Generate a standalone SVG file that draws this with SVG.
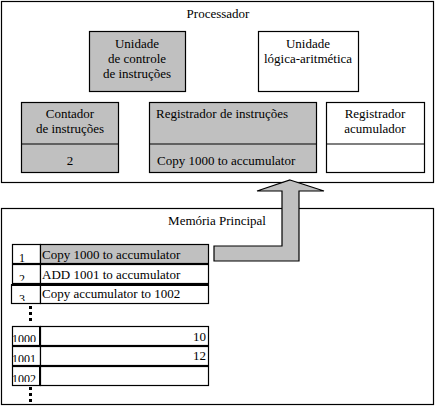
<svg xmlns="http://www.w3.org/2000/svg" width="435" height="408" viewBox="0 0 435 408">
<style>
text{font-family:"Liberation Serif","Times New Roman",serif;font-size:13px;fill:#000}
.c{text-anchor:middle}
.r{text-anchor:end}
.s{font-size:12px}
.box{stroke:#000;stroke-width:1.2}
.g{fill:#c0c0c0}
.w{fill:#fff}
.ln{stroke:#000;stroke-width:1.2;fill:none}
.dot{stroke:#000;stroke-width:3;stroke-dasharray:3 3;fill:none}
</style>
<defs>
<clipPath id="k1"><rect x="12" y="245" width="28" height="19"/></clipPath>
<clipPath id="k2"><rect x="12" y="265" width="28" height="16"/></clipPath>
<clipPath id="k3"><rect x="11" y="286" width="29" height="15"/></clipPath>
<clipPath id="k4"><rect x="12" y="327" width="28" height="15"/></clipPath>
<clipPath id="k5"><rect x="12" y="347" width="28" height="15"/></clipPath>
<clipPath id="k6"><rect x="12" y="367" width="28" height="15"/></clipPath>
</defs>
<rect width="435" height="408" fill="#fff"/>

<g id="processador">
<rect class="box w" x="1.5" y="1.5" width="432" height="181"/>
<text class="c" x="218" y="18">Processador</text>
</g>

<g id="unidade-controle">
<rect class="box g" x="89.5" y="31.5" width="96" height="60"/>
<text class="c" x="137" y="48">Unidade</text>
<text class="c" x="137" y="63">de controle</text>
<text class="c" x="137" y="78">de instruções</text>
</g>

<g id="ula">
<rect class="box w" x="258.5" y="31.5" width="100" height="60"/>
<text class="c" x="308" y="48">Unidade</text>
<text class="c" x="308" y="63">lógica-aritmética</text>
</g>

<g id="contador">
<rect class="box g" x="21.5" y="102.5" width="97" height="70"/>
<line class="ln" x1="21.5" y1="144" x2="118.5" y2="144"/>
<text class="c" x="70" y="118">Contador</text>
<text class="c" x="70" y="133">de instruções</text>
<text class="c" x="70" y="165">2</text>
</g>

<g id="reg-instrucoes">
<rect class="box g" x="149.5" y="102.5" width="167" height="70"/>
<line class="ln" x1="149.5" y1="144" x2="316.5" y2="144"/>
<text x="156" y="118">Registrador de instruções</text>
<text x="157" y="165">Copy 1000 to accumulator</text>
</g>

<g id="reg-acumulador">
<rect class="box w" x="326.5" y="102.5" width="98" height="70"/>
<line class="ln" x1="326.5" y1="144" x2="424.5" y2="144"/>
<text class="c" x="375" y="118">Registrador</text>
<text class="c" x="375" y="133">acumulador</text>
</g>

<g id="memoria">
<rect class="box w" x="1.5" y="208.5" width="432" height="196"/>
<text class="c" x="217" y="225">Memória Principal</text>
</g>

<g id="mem-1">
<rect class="box w" x="12.5" y="244.5" width="28" height="19"/>
<rect class="box g" x="40.5" y="244.5" width="168" height="19"/>
<text class="s c" x="22" y="262" clip-path="url(#k1)">1</text>
<text x="42" y="259">Copy 1000 to accumulator</text>
</g>
<g id="mem-2">
<rect class="box w" x="12.5" y="264.5" width="28" height="19"/>
<rect class="box w" x="40.5" y="264.5" width="168" height="19"/>
<text class="s c" x="22" y="283" clip-path="url(#k2)">2</text>
<text x="42" y="279">ADD 1001 to accumulator</text>
</g>
<g id="mem-3">
<rect class="box w" x="11.5" y="285" width="29" height="18.5"/>
<rect class="box w" x="40.5" y="285" width="168" height="18.5"/>
<line x1="11" y1="285" x2="209" y2="285" stroke="#000" stroke-width="2"/>
<text class="s c" x="22" y="303" clip-path="url(#k3)">3</text>
<text x="42" y="298">Copy accumulator to 1002</text>
</g>
<g id="mem-1000">
<rect class="box w" x="12.5" y="326.5" width="28" height="19"/>
<rect class="box w" x="40.5" y="326.5" width="168" height="19"/>
<line x1="40" y1="346" x2="209" y2="346" stroke="#000" stroke-width="2"/>
<line x1="40" y1="326" x2="40" y2="346" stroke="#000" stroke-width="2"/>
<text class="s" x="12" y="343" clip-path="url(#k4)">1000</text>
<text class="r" x="206" y="341">10</text>
</g>
<g id="mem-1001">
<rect class="box w" x="12.5" y="346.5" width="28" height="19"/>
<rect class="box w" x="40.5" y="346.5" width="168" height="19"/>
<text class="s" x="12" y="363" clip-path="url(#k5)">1001</text>
<text class="r" x="206" y="360">12</text>
</g>
<g id="mem-1002">
<rect class="box w" x="12.5" y="366.5" width="28" height="19"/>
<rect class="box w" x="40.5" y="366.5" width="168" height="19"/>
<line x1="40" y1="366" x2="40" y2="386" stroke="#000" stroke-width="2"/>
<text class="s" x="12" y="383" clip-path="url(#k6)">1002</text>
</g>

<g id="connectors">
<line class="dot" x1="30.5" y1="306" x2="30.5" y2="324"/>
<line class="dot" x1="30.5" y1="387" x2="30.5" y2="405"/>
<polygon points="290,180 324,191 299,191 299,261 214,261 214,246 282,246 282,191 257,191" fill="#c0c0c0" stroke="#000" stroke-width="1.2"/>
</g>
</svg>
